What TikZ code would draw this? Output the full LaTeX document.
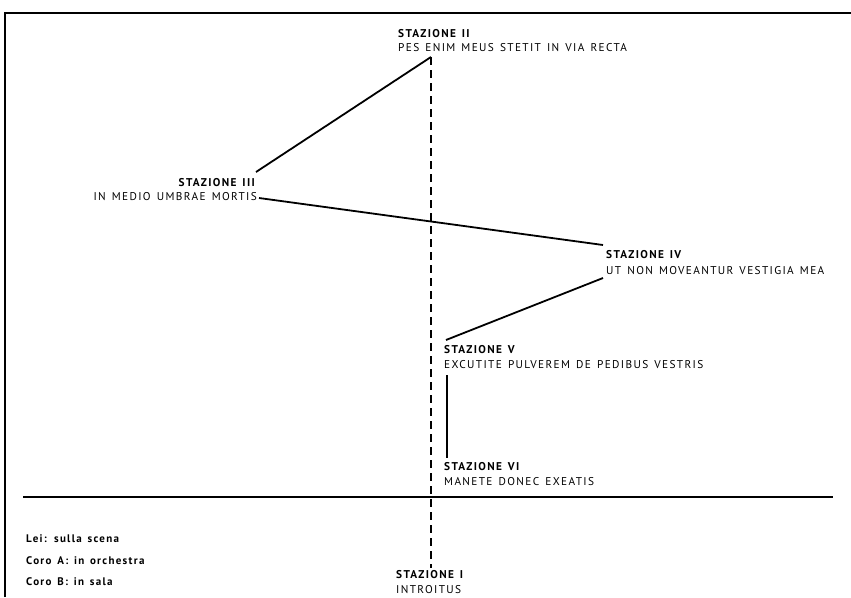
\documentclass[tikz,border=0pt]{standalone}
\usepackage{fontspec}
\setmainfont[LetterSpace=12,WordSpace=1.4]{PT Sans}
\begin{document}
\begin{tikzpicture}[x=1pt,y=-1pt,
  lbl/.style={inner sep=0pt,font=\fontsize{11.3}{13}\selectfont},
  ttl/.style={inner sep=0pt,font=\fontsize{11.3}{13}\selectfont\bfseries},
  leg/.style={inner sep=0pt,font=\fontsize{11}{13}\selectfont\bfseries},
  ln/.style={line width=1.8pt},
  dsh/.style={line width=1.6pt,dash pattern=on 8pt off 5pt}]
\useasboundingbox (0,0) rectangle (851,597);
% frame
\draw[line width=2.5pt] (5,597) -- (5,13) -- (851,13);
% coordinates
\coordinate (top) at (431,57);
\coordinate (bot) at (431,568);
\draw[dsh] (top) -- (bot);
% station II
\node[ttl,anchor=base west] (s2t) at (398,37) {STAZIONE II};
\node[lbl,anchor=base west] (s2) at (398,51) {PES ENIM MEUS STETIT IN VIA RECTA};
% station III
\node[ttl,anchor=base east] (s3t) at (255,186) {STAZIONE III};
\node[lbl,anchor=base east] (s3) at (257,200) {IN MEDIO UMBRAE MORTIS};
% station IV
\node[ttl,anchor=base west] (s4t) at (606,258) {STAZIONE IV};
\node[lbl,anchor=base west] (s4) at (606,274) {UT NON MOVEANTUR VESTIGIA MEA};
% station V
\node[ttl,anchor=base west] (s5t) at (444,353) {STAZIONE V};
\node[lbl,anchor=base west] (s5) at (444,368) {EXCUTITE PULVEREM DE PEDIBUS VESTRIS};
% station VI
\node[ttl,anchor=base west] (s6t) at (444,470) {STAZIONE VI};
\node[lbl,anchor=base west] (s6) at (444,485) {MANETE DONEC EXEATIS};
% station I
\node[ttl,anchor=base west] (s1t) at (396,578) {STAZIONE I};
\node[lbl,anchor=base west] (s1) at (396,593) {INTROITUS};
% connectors
\coordinate (c3a) at (256,172);
\coordinate (c3b) at (259,198);
\coordinate (c4a) at (603,245);
\coordinate (c4b) at (603,278);
\coordinate (c5a) at (446,340);
\coordinate (c5b) at (447,375);
\coordinate (c6a) at (447,458);
\draw[ln] (top) -- (c3a);
\draw[ln] (c3b) -- (c4a);
\draw[ln] (c4b) -- (c5a);
\draw[line width=2.5pt] (c5b) -- (c6a);
% stage line
\coordinate (hl) at (23,497);
\coordinate (hr) at (833,497);
\draw[ln] (hl) -- (hr);
% legend
\node[leg,anchor=base west] (l1) at (26,542) {Lei: sulla scena};
\node[leg,anchor=base west] (l2) at (26,564) {Coro A: in orchestra};
\node[leg,anchor=base west] (l3) at (26,585) {Coro B: in sala};
\end{tikzpicture}
\end{document}
